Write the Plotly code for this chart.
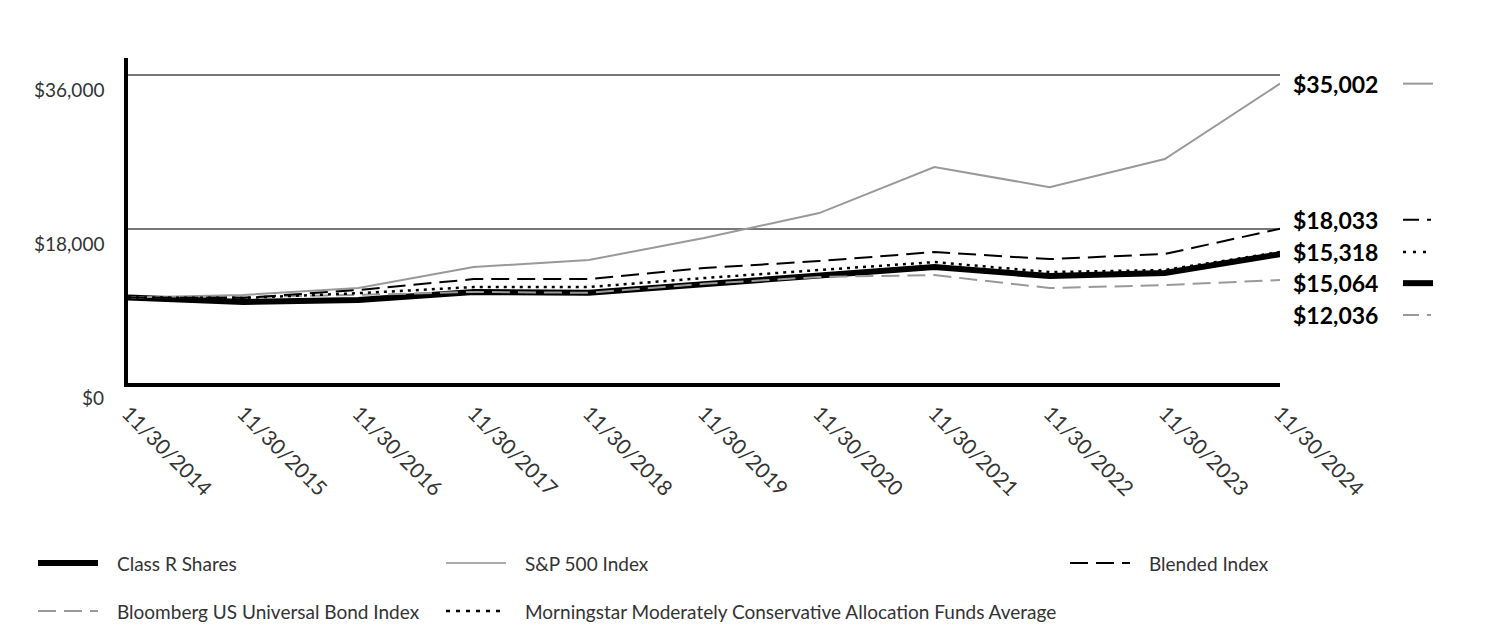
import plotly.graph_objects as go

# ---------------- data ----------------
dates = ["11/30/2014", "11/30/2015", "11/30/2016", "11/30/2017", "11/30/2018", "11/30/2019",
         "11/30/2020", "11/30/2021", "11/30/2022", "11/30/2023", "11/30/2024"]
class_r = [10000, 9470, 9700, 10640, 10560, 11570, 12620, 13560, 12500, 12860, 15064]
sp500 = [10000, 10290, 11100, 13560, 14380, 16950, 19870, 25250, 22900, 26180, 35002]
blended = [10000, 9950, 10870, 12150, 12150, 13440, 14260, 15310, 14490, 15080, 18033]
bond = [10000, 10060, 10300, 10650, 10550, 11600, 12400, 12620, 11100, 11450, 12036]
mstar = [10000, 9950, 10500, 11220, 11220, 12270, 13210, 14140, 12970, 13210, 15318]
y_ticks = [0, 18000, 36000]
y_tick_labels = ["$0", "$18,000", "$36,000"]
end_labels = ["$35,002", "$18,033", "$15,318", "$15,064", "$12,036"]

# ---------------- figure geometry ----------------
W, H = 1512, 624
L, R, T, B = 128, 232, 58, 241
PW, PH = W - L - R, H - T - B

def px_x(px):
    return (px - L) / PW

def px_y(py):
    return (H - B - py) / PH

FONT = "Lato, 'Open Sans', sans-serif"
TXT = "#333333"
GRAY = "#999999"

series = {
    "Class R Shares": dict(v=class_r, color="#000000", width=6, dash="solid"),
    "S&P 500 Index": dict(v=sp500, color=GRAY, width=2, dash="solid"),
    "Blended Index": dict(v=blended, color="#000000", width=2, dash="18px,8px"),
    "Bloomberg US Universal Bond Index": dict(v=bond, color=GRAY, width=2, dash="18px,8px"),
    "Morningstar Moderately Conservative Allocation Funds Average": dict(v=mstar, color="#000000", width=2.5, dash="3px,5px"),
}
draw_order = ["Class R Shares", "Bloomberg US Universal Bond Index", "S&P 500 Index",
              "Blended Index", "Morningstar Moderately Conservative Allocation Funds Average"]

fig = go.Figure()
for name in draw_order:
    s = series[name]
    fig.add_trace(go.Scatter(
        x=list(range(len(dates))), y=s["v"], mode="lines", name=name,
        line=dict(color=s["color"], width=s["width"], dash=s["dash"]),
        showlegend=False, hoverinfo="skip"))

annotations = []
shapes = []

# y tick labels (drawn slightly below the gridlines as in the reference)
for v, lab in zip(y_ticks, y_tick_labels):
    annotations.append(dict(x=px_x(106), xref="paper", xanchor="right", y=v, yref="y",
                            yanchor="middle", yshift=-14, text=lab, showarrow=False,
                            font=dict(family=FONT, size=19, color=TXT)))

# end value labels with small line samples
end_series = ["S&P 500 Index", "Blended Index",
              "Morningstar Moderately Conservative Allocation Funds Average",
              "Class R Shares", "Bloomberg US Universal Bond Index"]
end_shifts = [0, 9, 0, -29, -35]
sample_dash = {"solid": "solid", "18px,8px": "16px,8px,4px", "3px,5px": "3px,7px"}
for lab, nm, sh in zip(end_labels, end_series, end_shifts):
    s = series[nm]
    last = s["v"][-1]
    annotations.append(dict(x=px_x(1291), xref="paper", xanchor="left", y=last, yref="y",
                            yanchor="middle", yshift=sh, text="<b>" + lab + "</b>",
                            showarrow=False, font=dict(family=FONT, size=23, color="#000000")))
    shapes.append(dict(type="line", xref="paper", x0=px_x(1403), x1=px_x(1433),
                       yref="y", ysizemode="pixel", yanchor=last, y0=sh, y1=sh,
                       line=dict(color=s["color"], width=s["width"] if s["width"] < 5 else 6,
                                 dash=sample_dash[s["dash"]])))

# bottom legend (manual layout to match reference positions)
legend_items = [
    ("Class R Shares", 38, 563),
    ("S&P 500 Index", 446, 563),
    ("Blended Index", 1070, 563),
    ("Bloomberg US Universal Bond Index", 38, 611),
    ("Morningstar Moderately Conservative Allocation Funds Average", 446, 611),
]
legend_dash = {"solid": "solid", "18px,8px": "18px,8px", "3px,5px": "4px,6px"}
for nm, lx, ly in legend_items:
    s = series[nm]
    shapes.append(dict(type="line", xref="paper", yref="paper",
                       x0=px_x(lx), x1=px_x(lx + 60), y0=px_y(ly), y1=px_y(ly),
                       line=dict(color=s["color"] if nm != "S&P 500 Index" else "#aaaaaa",
                                 width=s["width"], dash=legend_dash[s["dash"]])))
    annotations.append(dict(x=px_x(lx + 77), xref="paper", xanchor="left",
                            y=px_y(ly), yref="paper", yanchor="middle", text=nm,
                            showarrow=False, font=dict(family=FONT, size=19, color=TXT)))

fig.update_layout(
    width=W, height=H,
    margin=dict(l=L, r=R, t=T, b=B, pad=0),
    paper_bgcolor="white", plot_bgcolor="white",
    font=dict(family=FONT, size=19, color=TXT),
    showlegend=False,
    xaxis=dict(
        type="linear", range=[0, len(dates) - 1],
        tickmode="array", tickvals=list(range(len(dates))), ticktext=dates,
        tickangle=45, ticks="", showgrid=False, zeroline=False,
        showline=True, linecolor="#000000", linewidth=4,
        ticklabelstandoff=6,
        tickfont=dict(family=FONT, size=21, color=TXT),
    ),
    yaxis=dict(
        range=[0, 38000], tickmode="array", tickvals=y_ticks,
        showticklabels=False, ticks="", showgrid=True, gridcolor="#777777", gridwidth=2,
        zeroline=False, showline=True, linecolor="#000000", linewidth=4,
    ),
    annotations=annotations,
    shapes=shapes,
)

fig.write_html("out.html", config={"displayModeBar": False, "staticPlot": True},
               post_script="document.body.style.margin='0';document.body.style.overflow='hidden';")
